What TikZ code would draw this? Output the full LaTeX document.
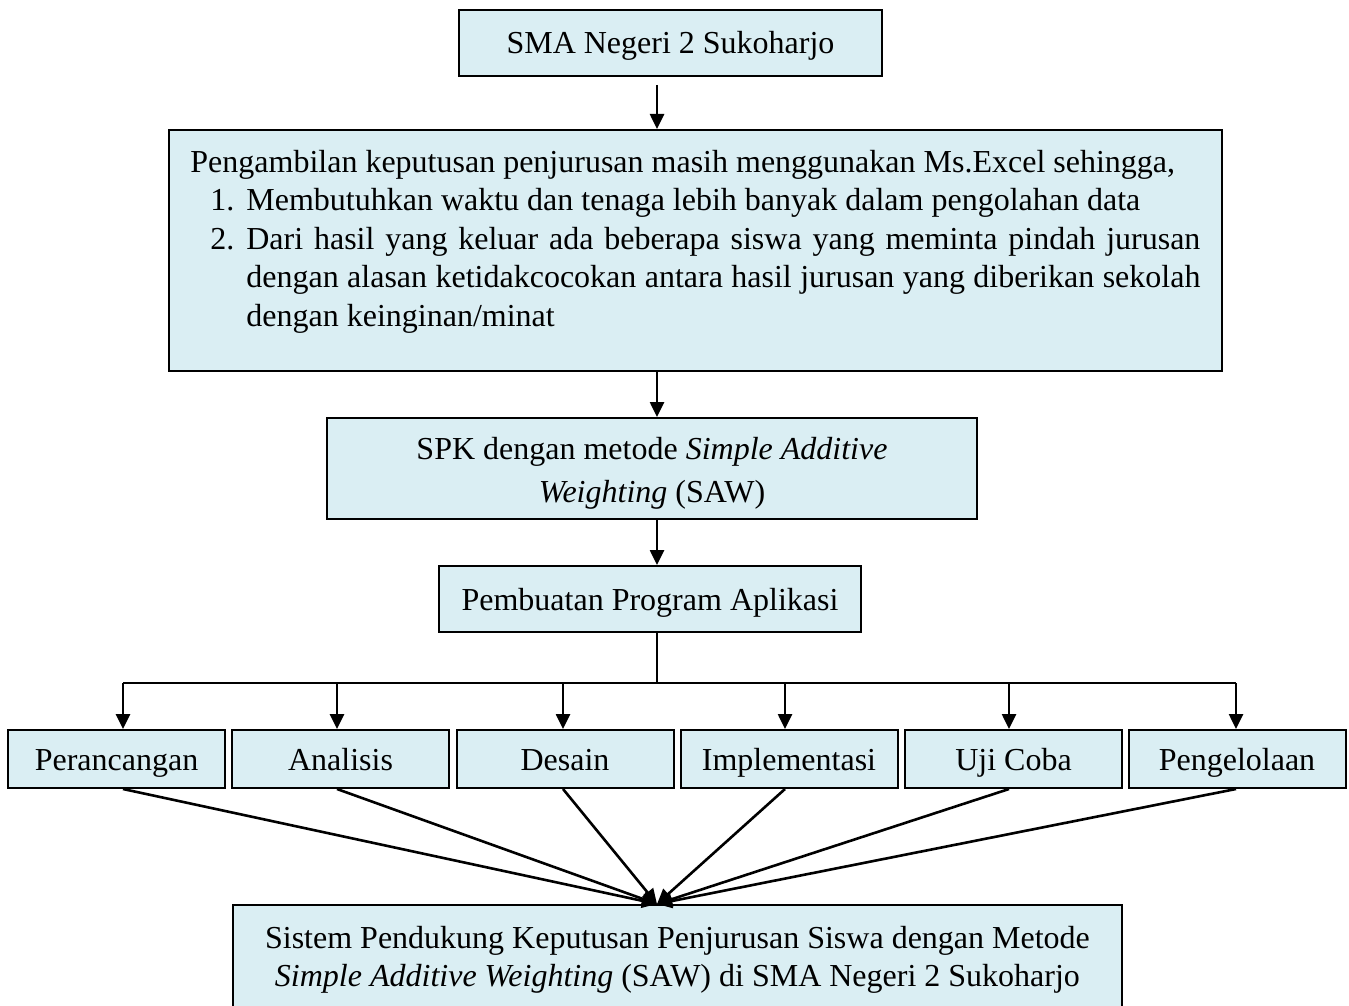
\documentclass[tikz,border=0pt]{standalone}
\usepackage{fontspec}
\setmainfont{Liberation Serif}
\usetikzlibrary{arrows.meta,calc}
\definecolor{boxfill}{RGB}{218,238,243}
\begin{document}
\begin{tikzpicture}[x=0.5pt,y=-0.5pt,
  font=\fontsize{16pt}{19.3pt}\selectfont,
  box/.style={draw=black,line width=1pt,fill=boxfill,inner sep=0pt,
    text height=14pt,text depth=3pt},
  arr/.style={line width=1.3pt,-{Triangle[length=7.5pt,width=7pt]}},
  conn/.style={line width=1.3pt}]
\useasboundingbox (0,0) rectangle (1349,1006);
% main column
\node[box,minimum width=211.5pt,minimum height=33pt] (b1) at (670.5,43) {SMA Negeri 2 Sukoharjo};
\node[box,minimum width=526.5pt,minimum height=120.5pt,text height=,text depth=] (b2) at (695.5,250.5) {};
\node[anchor=base west,inner sep=0pt,text width=505pt,align=justify] (b2txt) at (190,172) {%
  \tolerance=9999\emergencystretch=10pt
  Pengambilan keputusan penjurusan masih menggunakan Ms.Excel sehingga,\par
  \leftskip=28pt
  \leavevmode\llap{\makebox[18pt][l]{1.}}Membutuhkan waktu dan tenaga lebih banyak dalam pengolahan data\par
  \leavevmode\llap{\makebox[18pt][l]{2.}}Dari hasil yang keluar ada beberapa siswa yang meminta pindah jurusan\linebreak
  dengan alasan ketidakcocokan antara hasil jurusan yang diberikan sekolah\linebreak
  dengan keinginan/minat\par};
\node[box,minimum width=325pt,minimum height=50.5pt,text height=,text depth=,align=center] (b3) at (652,468.5)
  {\rule{0pt}{16pt}SPK dengan metode \textit{Simple Additive}\\[2pt]\textit{Weighting} (SAW)};
\node[box,minimum width=211pt,minimum height=33pt] (b4) at (650,599) {Pembuatan Program Aplikasi};
% six stage boxes
\node[box,minimum width=108.5pt,minimum height=29pt] (sA) at (116.5,759) {Perancangan};
\node[box,minimum width=108.5pt,minimum height=29pt] (sB) at (340.5,759) {Analisis};
\node[box,minimum width=108.5pt,minimum height=29pt] (sC) at (565,759) {Desain};
\node[box,minimum width=108.5pt,minimum height=29pt] (sD) at (789,759) {Implementasi};
\node[box,minimum width=108.5pt,minimum height=29pt] (sE) at (1013.5,759) {Uji Coba};
\node[box,minimum width=108.5pt,minimum height=29pt] (sF) at (1237,759) {Pengelolaan};
% final box (bottom edge below the page)
\node[box,minimum width=444.5pt,minimum height=55pt,text height=,text depth=,align=center] (fin) at (677.5,960)
  {Sistem Pendukung Keputusan Penjurusan Siswa dengan Metode\\\textit{Simple Additive Weighting} (SAW) di SMA Negeri 2 Sukoharjo};
% connector coordinates
\coordinate (axis) at (657,0);
\coordinate (bus) at (657,683);
\coordinate (pA) at (123,683);
\coordinate (pB) at (337,683);
\coordinate (pC) at (563,683);
\coordinate (pD) at (785,683);
\coordinate (pE) at (1009,683);
\coordinate (pF) at (1236,683);
\coordinate (conv) at (fin.north -| axis);
% vertical arrows
\draw[arr] ([yshift=-4pt]b1.south -| axis) -- (b2.north -| axis);
\draw[arr] (b2.south -| axis) -- (b3.north -| axis);
\draw[arr] (b3.south -| axis) -- (b4.north -| axis);
\draw[conn] (b4.south -| axis) -- (bus);
\draw[conn] (pA) -- (pF);
\foreach \p/\s in {pA/sA,pB/sB,pC/sC,pD/sD,pE/sE,pF/sF}{
  \draw[arr] (\p) -- (\p |- \s.north);
  \draw[arr] (\s.south -| \p) -- (conv);
}
\end{tikzpicture}
\end{document}
